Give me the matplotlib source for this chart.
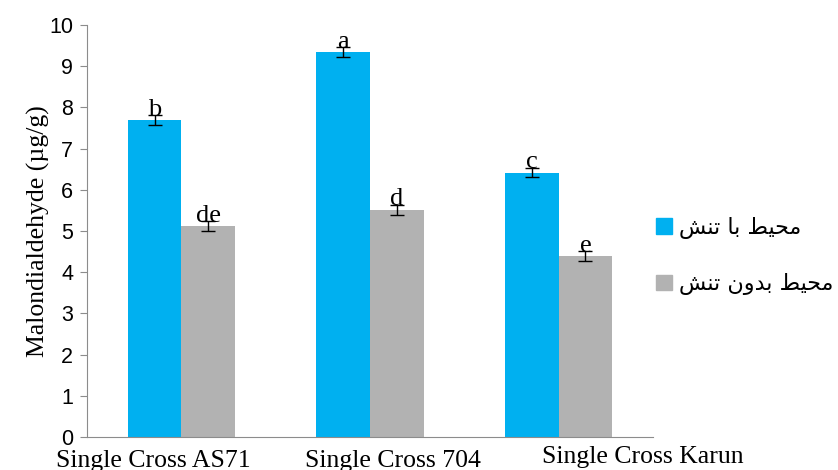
import matplotlib
matplotlib.use("Agg")
import matplotlib.pyplot as plt
import matplotlib.transforms as mtransforms
from matplotlib.patches import Patch
import numpy as np

# data
cultivars = ["Single Cross AS71", "Single Cross 704", "Single Cross Karun"]
stress = [7.70, 9.35, 6.42]
stress_err = [0.12, 0.12, 0.12]
no_stress = [5.12, 5.52, 4.40]
no_stress_err = [0.12, 0.12, 0.12]
stress_letters = ["b", "a", "c"]
no_stress_letters = ["de", "d", "e"]

# legend labels (Persian, written as shaped presentation forms in visual order)
label_stress = "\uFEB6\uFEE8\uFE97 \uFE8E\uFE91 \uFEC2\uFEF4\uFEA4\uFEE3"
label_no_stress = "\uFEB6\uFEE8\uFE97 \uFEE5\uFEED\uFEAA\uFE91 \uFEC2\uFEF4\uFEA4\uFEE3"

blue = "#00B0F0"
grey = "#B2B2B2"
serif = "Liberation Serif"

fig = plt.figure(figsize=(8.38, 4.70), dpi=100)
ax = fig.add_axes([0.1038, 0.0702, 0.6754, 0.8766])

x = np.arange(len(cultivars))
w = 0.284
ax.bar(x - w / 2, stress, w, color=blue)
ax.bar(x + w / 2, no_stress, w, color=grey)
ax.errorbar(x - w / 2, stress, yerr=stress_err, fmt="none", ecolor="black",
            elinewidth=1, capsize=5, capthick=1)
ax.errorbar(x + w / 2, no_stress, yerr=no_stress_err, fmt="none", ecolor="black",
            elinewidth=1, capsize=5, capthick=1)

for xi, v, e, t in zip(x - w / 2, stress, stress_err, stress_letters):
    ax.text(xi, v + e - 0.02, t, ha="center", va="baseline", family=serif, fontsize=19)
for xi, v, e, t in zip(x + w / 2, no_stress, no_stress_err, no_stress_letters):
    ax.text(xi, v + e - 0.02, t, ha="center", va="baseline", family=serif, fontsize=19)

ax.set_xlim(-0.5, 2.5)
ax.set_ylim(0, 10)
ax.set_yticks(range(0, 11))
ax.tick_params(axis="y", length=5, color="#8C8C8C", labelsize=15.5, pad=5)
for lab in ax.get_yticklabels():
    lab.set_family("Liberation Sans")

ax.set_xticks(x)
ax.set_xticklabels(cultivars, family=serif, fontsize=18.5)
ax.tick_params(axis="x", length=0, pad=9)
shifts = [-28, 23, 84]
drops = [0, 0, 4]
for lab, dx, dy in zip(ax.get_xticklabels(), shifts, drops):
    lab.set_transform(lab.get_transform() +
                      mtransforms.ScaledTranslation(dx / 100, dy / 100, fig.dpi_scale_trans))

for s in ["top", "right"]:
    ax.spines[s].set_visible(False)
for s in ["left", "bottom"]:
    ax.spines[s].set_color("#8C8C8C")

ax.set_ylabel("Malondialdehyde (µg/g)", family=serif, fontsize=18.5, labelpad=-1)

handles = [Patch(facecolor=blue, edgecolor=blue), Patch(facecolor=grey, edgecolor=grey)]
fig.legend(handles, [label_stress, label_no_stress], loc="center left",
           bbox_to_anchor=(0.759, 0.455), frameon=False, prop={"family": "DejaVu Sans", "size": 16},
           handlelength=0.7, handleheight=0.7, handletextpad=0.35, labelspacing=1.55)

fig.savefig("out.png", dpi=100)
